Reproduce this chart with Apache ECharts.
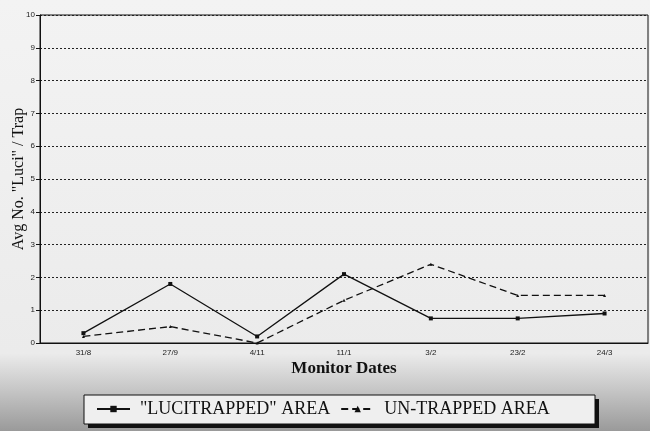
<!DOCTYPE html>
<html>
<head>
<meta charset="utf-8">
<script src="https://cdn.jsdelivr.net/npm/echarts@6/dist/echarts.min.js"></script>
<style>html,body{margin:0;padding:0;}#c{width:650px;height:431px;}</style>
</head>
<body>
<div id="c"></div>
<script>
const categories = ['31/8', '27/9', '4/11', '11/1', '3/2', '23/2', '24/3'];
const lucitrapped = [0.3, 1.8, 0.2, 2.1, 0.75, 0.75, 0.9];
const untrapped = [0.2, 0.5, 0.0, 1.3, 2.4, 1.45, 1.45];
const yTicks = [0, 1, 2, 3, 4, 5, 6, 7, 8, 9, 10];

const chart = echarts.init(document.getElementById('c'));
chart.setOption({
  animation: false,
  backgroundColor: {
    type: 'linear', x: 0, y: 0, x2: 0, y2: 1,
    colorStops: [
      { offset: 0, color: '#f3f3f3' },
      { offset: 0.82, color: '#ebebeb' },
      { offset: 0.9, color: '#c8c8c8' },
      { offset: 1, color: '#9a9a9a' }
    ]
  },
  graphic: [
    { type: 'rect', z: 0, shape: { x: 88, y: 399, width: 511, height: 29 }, style: { fill: '#111' } },
    { type: 'rect', z: 1, shape: { x: 84, y: 395, width: 511, height: 29 }, style: { fill: '#efefef', stroke: '#111', lineWidth: 1 } }
  ],
  grid: {
    left: 40, right: 2, top: 15, bottom: 88,
    outerBoundsMode: 'none',
    containLabel: false,
    show: true, borderColor: '#111', borderWidth: 1, backgroundColor: 'transparent'
  },
  legend: {
    z: 5,
    left: 84, top: 395,
    padding: [5, 42, 5, 12],
    itemWidth: 33, itemHeight: 8, itemGap: 10,
    textStyle: { fontFamily: 'Liberation Serif', fontSize: 18, color: '#111', padding: [0, 0, 0, 5] },
    data: ['"LUCITRAPPED" AREA', 'UN-TRAPPED AREA']
  },
  xAxis: {
    type: 'category',
    data: categories,
    boundaryGap: true,
    name: 'Monitor Dates',
    nameLocation: 'middle',
    nameMoveOverlap: false,
    nameGap: 17,
    nameTextStyle: { fontFamily: 'Liberation Serif', fontSize: 17, fontWeight: 'bold', color: '#111' },
    axisLine: { lineStyle: { color: '#111', width: 1 } },
    axisTick: { alignWithLabel: true, length: 4, lineStyle: { color: '#111' } },
    axisLabel: { fontFamily: 'Liberation Sans', fontSize: 8, color: '#222', margin: 6 },
    splitLine: { show: false }
  },
  yAxis: {
    type: 'value',
    min: 0, max: 10, interval: 1,
    name: 'Avg No. "Luci" / Trap',
    nameLocation: 'middle',
    nameMoveOverlap: false,
    nameGap: 13,
    nameTextStyle: { fontFamily: 'Liberation Serif', fontSize: 16, color: '#111' },
    axisLine: { show: true, lineStyle: { color: '#111', width: 1 } },
    axisTick: { show: true, length: 4, lineStyle: { color: '#111' } },
    axisLabel: {
      fontFamily: 'Liberation Sans', fontSize: 8, color: '#222', margin: 5,
      formatter: v => yTicks.includes(v) ? String(v) : ''
    },
    splitLine: { show: true, lineStyle: { color: '#222', type: [2, 2], width: 1 } }
  },
  series: [
    {
      name: '"LUCITRAPPED" AREA',
      type: 'line',
      data: lucitrapped,
      symbol: 'rect',
      symbolSize: 4,
      itemStyle: { color: '#111' },
      lineStyle: { color: '#111', width: 1.3 }
    },
    {
      name: 'UN-TRAPPED AREA',
      type: 'line',
      data: untrapped,
      symbol: 'triangle',
      symbolSize: 3,
      itemStyle: { color: '#111' },
      lineStyle: { color: '#111', width: 1.3, type: [7, 4] }
    }
  ]
});
</script>
</body>
</html>
